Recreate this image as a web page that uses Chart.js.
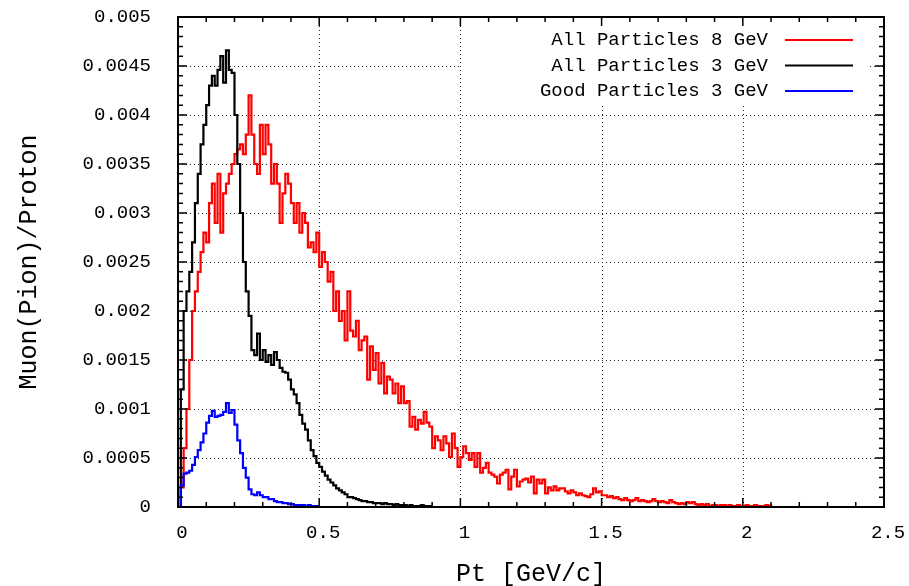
<!DOCTYPE html>
<html>
<head>
<meta charset="utf-8">
<script src="https://cdn.jsdelivr.net/npm/chart.js@4/dist/chart.umd.min.js"></script>
<style>
  body { margin: 0; background: #fff; }
  #wrap { width: 909px; height: 586px; }
</style>
</head>
<body>
<div id="wrap"><canvas id="myChart"></canvas></div>
<script>
// histogram bins are 0.01 GeV wide, starting at Pt = 0
const binWidth = 0.01;

const labels = ['All Particles 8 GeV', 'All Particles 3 GeV', 'Good Particles 3 GeV'];
const colors = ['#ff0000', '#000000', '#0000ff'];

const xTicks = [0, 0.5, 1, 1.5, 2, 2.5];
const yTicks = [0, 0.0005, 0.001, 0.0015, 0.002, 0.0025, 0.003, 0.0035, 0.004, 0.0045, 0.005];

const all8 = [
	0.0002, 0.0006, 0.0010, 0.0015, 0.0020, 0.0022, 0.0024, 0.0026, 0.0028, 0.0027,
	0.0031, 0.0033, 0.0029, 0.0034, 0.0028, 0.0032, 0.0033, 0.0034, 0.0035, 0.0036,
	0.00365, 0.0037, 0.0036, 0.0038, 0.0042, 0.0038, 0.0035, 0.0034, 0.0039, 0.0036,
	0.0039, 0.0037, 0.0033, 0.0035, 0.0033, 0.0029, 0.0032, 0.0034, 0.0033, 0.0031,
	0.0029, 0.0031, 0.0028, 0.0030, 0.0029, 0.00265, 0.0027, 0.0026, 0.0028, 0.00245,
	0.0026, 0.0025, 0.0023, 0.0024, 0.0020, 0.0022, 0.0019, 0.0020, 0.0017, 0.0022,
	0.0018, 0.00174, 0.0019, 0.0016, 0.0017, 0.00174, 0.0013, 0.00164, 0.0014, 0.00157,
	0.00126, 0.00147, 0.00116, 0.00133, 0.0013, 0.00116, 0.00126, 0.00106, 0.00123, 0.00106,
	0.00108, 0.00082, 0.00092, 0.00079, 0.00089, 0.00085, 0.00097, 0.00086, 0.00082, 0.0006,
	0.00072, 0.00068, 0.00058, 0.00072, 0.00065, 0.00051, 0.00075, 0.0006, 0.00041, 0.00051,
	0.00062, 0.00055, 0.00048, 0.00055, 0.00041, 0.00055, 0.00035, 0.0004, 0.00045, 0.00035,
	0.00033, 0.00031, 0.00024, 0.00033, 0.00035, 0.00038, 0.00018, 0.00031, 0.00038, 0.00021,
	0.00026, 0.00028, 0.00029, 0.00025, 0.00031, 0.00014, 0.00028, 0.00024, 0.00028, 0.00014,
	0.0002, 0.00017, 0.00021, 0.00017, 0.00019, 0.00019, 0.00016, 0.00014, 0.00017, 0.00015,
	0.00012, 0.00014, 0.00012, 0.00011, 0.0001, 0.00013, 0.00019, 0.00015, 0.00016, 0.00012,
	0.00012, 0.0001, 0.00011, 0.00009, 0.0001, 0.00008, 0.00007, 0.00009, 0.00007, 0.00006,
	0.00007, 0.00009, 0.00006, 0.00007, 0.00006, 0.00005, 0.00006, 0.00008, 0.00006, 0.00005,
	0.00006, 0.00005, 0.00004, 0.00007, 0.00005, 0.00004, 0.00003, 0.00004, 0.00003, 0.00005,
	0.00004, 0.00005, 0.00003, 0.00002, 0.00003, 0.00002, 0.00003, 0.00001, 0.00002, 0.00002,
	0.00001, 0.00002, 0.00002, 0.00001, 0.00002, 0.00001, 0.00001, 0.00002, 0.00001, 0.00001,
	0.00002, 0.00001, 0.00001, 0.00002, 0.00001, 0.00001, 0.00001, 0.00002, 0.00001, 0.00003
];

const all3 = [
	0.0012, 0.0020, 0.0022, 0.0024, 0.0027, 0.0031, 0.0034, 0.0037, 0.0039, 0.0041,
	0.0043, 0.0044, 0.0043, 0.00446, 0.0046, 0.00433, 0.00466, 0.00446, 0.00443, 0.0040,
	0.0035, 0.0030, 0.0025, 0.0022, 0.00195, 0.0016, 0.00155, 0.00177, 0.0015, 0.0016,
	0.00148, 0.00155, 0.00145, 0.00158, 0.0015, 0.00142, 0.00138, 0.00137, 0.0013, 0.0012,
	0.00115, 0.00106, 0.00094, 0.00085, 0.00079, 0.00068, 0.00058, 0.00052, 0.00045, 0.00041,
	0.00036, 0.00032, 0.00028, 0.00025, 0.00022, 0.00019, 0.00017, 0.00015, 0.00013, 0.0001,
	0.0001, 0.00009, 0.00008, 0.00007, 0.00006, 0.00006, 0.00005, 0.00005, 0.00004, 0.00004,
	0.00004, 0.00003, 0.00004, 0.00003, 0.00003, 0.00002, 0.00003, 0.00002, 0.00002, 0.00002,
	0.00001, 0.00002, 0.00001, 0.00001, 0.00001, 0.00002, 0.00001, 0.00001, 0.00001, 0.00001
];

const good3 = [
	0.00022, 0.00034, 0.00035, 0.00037, 0.00043, 0.00051, 0.00058, 0.00066, 0.00075, 0.00086,
	0.00093, 0.00098, 0.00092, 0.00093, 0.00094, 0.00097, 0.00106, 0.00096, 0.00099, 0.00084,
	0.00068, 0.00055, 0.0004, 0.0003, 0.00018, 0.00013, 0.00012, 0.00015, 0.00012, 0.0001,
	0.0001, 0.00008, 0.00008, 0.00006, 0.00005, 0.00005, 0.00004, 0.00004, 0.00003, 0.00003,
	0.00002, 0.00002, 0.00002, 0.00002, 0.00001, 0.00002, 0.00001, 0.00001, 0.00001, 0.00001
];

const FONT = '"Liberation Mono", "DejaVu Sans Mono", monospace';

// one point per bin right edge, drawn as steps
function hist(vals) {
	let pts = [{ x: 0, y: 0 }];
	for (let i = 0; i < vals.length; i++) {
		pts.push({ x: +((i + 1) * binWidth).toFixed(3), y: vals[i] });
	}
	return pts;
}

function fmt(v) {
	return String(+v.toFixed(6));
}

// keep the plot box where the reference has it
function noEdgePadding(s) {
	s.paddingTop = 0;
	s.paddingBottom = 0;
	s.paddingLeft = 0;
	s.paddingRight = 0;
}

// gnuplot-like frame: dotted grid, inward ticks on all sides, legend top right
const frame = {
	id: 'frame',
	beforeDatasetsDraw(chart) {
		const { ctx, chartArea: a, scales: { x, y } } = chart;
		ctx.save();
		ctx.strokeStyle = '#222';
		ctx.lineWidth = 1;
		ctx.setLineDash([1, 3]);
		xTicks.forEach(function(t) {
			let px = Math.round(x.getPixelForValue(t)) + 0.5;
			if (px <= a.left + 2 || px >= a.right - 2) return;
			ctx.beginPath(); ctx.moveTo(px, a.bottom); ctx.lineTo(px, a.top); ctx.stroke();
		});
		yTicks.forEach(function(t) {
			let py = Math.round(y.getPixelForValue(t)) + 0.5;
			if (py <= a.top + 2 || py >= a.bottom - 2) return;
			ctx.beginPath(); ctx.moveTo(a.left, py); ctx.lineTo(a.right, py); ctx.stroke();
		});
		ctx.setLineDash([]);
		// legend box hides the grid behind it
		ctx.fillStyle = '#fff';
		ctx.fillRect(462, a.top + 1, 406, 86);
		ctx.restore();
	},
	afterDatasetsDraw(chart) {
		const { ctx, chartArea: a, scales: { x, y } } = chart;
		ctx.save();
		ctx.strokeStyle = '#000';
		ctx.lineWidth = 1.5;
		// x ticks, 5 minor steps per major
		for (let i = 0; i < xTicks.length; i++) {
			let t = xTicks[i];
			let px = x.getPixelForValue(t);
			ctx.beginPath();
			ctx.moveTo(px, a.bottom); ctx.lineTo(px, a.bottom - 9);
			ctx.moveTo(px, a.top); ctx.lineTo(px, a.top + 9);
			ctx.stroke();
			if (i == xTicks.length - 1) break;
			let step = (xTicks[i + 1] - t) / 5;
			for (let k = 1; k < 5; k++) {
				let mx = x.getPixelForValue(t + k * step);
				ctx.beginPath();
				ctx.moveTo(mx, a.bottom); ctx.lineTo(mx, a.bottom - 5);
				ctx.moveTo(mx, a.top); ctx.lineTo(mx, a.top + 5);
				ctx.stroke();
			}
		}
		// y ticks
		for (let i = 0; i < yTicks.length; i++) {
			let t = yTicks[i];
			let py = y.getPixelForValue(t);
			ctx.beginPath();
			ctx.moveTo(a.left, py); ctx.lineTo(a.left + 9, py);
			ctx.moveTo(a.right, py); ctx.lineTo(a.right - 9, py);
			ctx.stroke();
			if (i == yTicks.length - 1) break;
			let step = (yTicks[i + 1] - t) / 5;
			for (let k = 1; k < 5; k++) {
				let my = y.getPixelForValue(t + k * step);
				ctx.beginPath();
				ctx.moveTo(a.left, my); ctx.lineTo(a.left + 5, my);
				ctx.moveTo(a.right, my); ctx.lineTo(a.right - 5, my);
				ctx.stroke();
			}
		}
		// border
		ctx.lineWidth = 2;
		ctx.strokeRect(a.left, a.top, a.right - a.left, a.bottom - a.top);

		// legend: text right aligned, sample on the right
		ctx.font = '19px ' + FONT;
		ctx.textAlign = 'right';
		ctx.textBaseline = 'middle';
		ctx.fillStyle = '#000';
		chart.data.datasets.forEach(function(ds, i) {
			let ly = 40 + i * 25.5;
			ctx.fillText(ds.label, 768, ly);
			ctx.strokeStyle = ds.borderColor;
			ctx.lineWidth = 2;
			ctx.beginPath(); ctx.moveTo(785, ly); ctx.lineTo(853, ly); ctx.stroke();
		});
		ctx.restore();
	}
};

const ctx = document.getElementById('myChart').getContext('2d');

const chart = new Chart(ctx, {
	type: 'line',
	data: {
		datasets: [all8, all3, good3].map(function(vals, i) {
			return {
				label: labels[i],
				data: hist(vals),
				borderColor: colors[i],
				borderWidth: 2.2,
				pointRadius: 0,
				fill: false,
				stepped: 'before',
				order: 3 - i
			};
		})
	},
	options: {
		responsive: true,
		maintainAspectRatio: false,
		animation: false,
		events: [],
		layout: { padding: { top: 17, right: 25, left: 0, bottom: 0 } },
		plugins: {
			legend: { display: false },
			tooltip: { enabled: false }
		},
		scales: {
			x: {
				type: 'linear',
				min: 0,
				max: 2.5,
				afterFit: function(s) { s.height = 79; noEdgePadding(s); },
				grid: { display: false },
				border: { display: false },
				ticks: {
					stepSize: 0.5,
					padding: 7,
					labelOffset: 4,
					color: '#000',
					maxRotation: 0,
					font: { family: FONT, size: 19 },
					callback: fmt
				},
				title: {
					display: true,
					text: 'Pt [GeV/c]',
					color: '#000',
					padding: 0,
					font: { family: FONT, size: 25, lineHeight: 0.9 }
				}
			},
			y: {
				min: 0,
				max: 0.005,
				afterFit: function(s) { s.width = 178; noEdgePadding(s); },
				grid: { display: false },
				border: { display: false },
				ticks: {
					stepSize: 0.0005,
					padding: 19,
					color: '#000',
					font: { family: FONT, size: 19 },
					callback: fmt
				},
				title: {
					display: true,
					text: 'Muon(Pion)/Proton',
					color: '#000',
					padding: { top: 14, bottom: 0 },
					font: { family: FONT, size: 25, lineHeight: 1.2 }
				}
			}
		}
	},
	plugins: [frame]
});
</script>
</body>
</html>
